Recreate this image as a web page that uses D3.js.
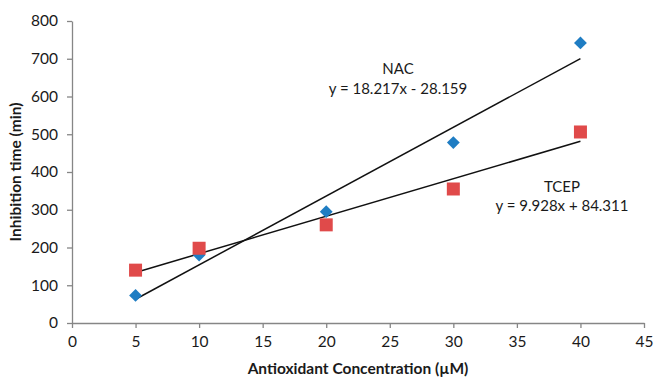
<!DOCTYPE html>
<html>
<head>
    <meta charset="UTF-8">
    <title></title>
    <style>
        body { margin: 0; background: #fff; }
        text { font-family: Lato, "Open Sans", sans-serif; fill: #1a1a1a; }
    </style>
</head>
<body>
<div id="chart"></div>
<script src="https://cdn.jsdelivr.net/npm/d3@7"></script>
<script>
    // data
    var conc = [5, 10, 20, 30, 40];
    var nacValues = [73, 180, 295, 478, 742];
    var tcepValues = [140, 198, 260, 355, 506];
    var xTicks = [0, 5, 10, 15, 20, 25, 30, 35, 40, 45];
    var yTicks = [0, 100, 200, 300, 400, 500, 600, 700, 800];
    // trendline fits as printed on the chart
    var nacFit = [18.217, -28.159];
    var tcepFit = [9.928, 84.311];

    var W = 654, H = 379;
    var m = {left: 72, right: 10, top: 21, bottom: 56};

    var svg = d3.select("#chart").append("svg")
        .attr("width", W).attr("height", H);

    var x = d3.scaleLinear().domain([0, 45]).range([m.left, 644]);
    var y = d3.scaleLinear().domain([0, 800]).range([323, m.top]);

    // axes
    var gx = svg.append("g").attr("transform", "translate(0,323)")
        .call(d3.axisBottom(x).tickValues(xTicks).tickSize(5).tickPadding(8).tickSizeOuter(0));
    var gy = svg.append("g").attr("transform", "translate(" + m.left + ",0)")
        .call(d3.axisLeft(y).tickValues(yTicks).tickSize(5).tickPadding(9).tickSizeOuter(0));
    [gx, gy].forEach(function(g){
        g.select(".domain").attr("stroke", "#868686").attr("stroke-width", 1.3);
        g.selectAll(".tick line").attr("stroke", "#868686").attr("stroke-width", 1.3);
        g.selectAll(".tick text").style("font-family", "Lato, sans-serif")
            .style("font-size", "15.5px").attr("fill", "#1a1a1a");
    });

    // axis titles
    svg.append("text").attr("x", 358).attr("y", 374)
        .attr("text-anchor", "middle").style("font-size", "15.5px").style("font-weight", "bold")
        .text("Antioxidant Concentration (\u00b5M)");
    svg.append("text").attr("transform", "translate(21,172) rotate(-90)")
        .attr("text-anchor", "middle").style("font-size", "15.5px").style("font-weight", "bold")
        .text("Inhibition time (min)");

    // trendlines
    function trend(fit) {
        return [conc[0], conc[conc.length - 1]].map(function(c){ return [c, fit[0] * c + fit[1]]; });
    }
    var line = d3.line().x(function(d){ return x(d[0]); }).y(function(d){ return y(d[1]); });
    [nacFit, tcepFit].forEach(function(f){
        svg.append("path").datum(trend(f)).attr("d", line)
            .attr("fill", "none").attr("stroke", "#111").attr("stroke-width", 1.5);
    });

    // markers
    svg.selectAll(".nac").data(conc).enter().append("path")
        .attr("d", d3.symbol().type(d3.symbolDiamond2).size(105))
        .attr("transform", function(d, i){ return "translate(" + x(d) + "," + y(nacValues[i]) + ")"; })
        .attr("fill", "#1f7dc3");
    svg.selectAll(".tcep").data(conc).enter().append("rect")
        .attr("x", function(d){ return x(d) - 6.5; })
        .attr("y", function(d, i){ return y(tcepValues[i]) - 6.5; })
        .attr("width", 13).attr("height", 13)
        .attr("fill", "#e04a4a");

    // labels
    var labels = [
        {t: "NAC", x: 398, y: 74},
        {t: "y = 18.217x - 28.159", x: 398, y: 94},
        {t: "TCEP", x: 562, y: 192},
        {t: "y = 9.928x + 84.311", x: 562, y: 211}
    ];
    svg.selectAll(".lab").data(labels).enter().append("text")
        .attr("x", function(d){ return d.x; }).attr("y", function(d){ return d.y; })
        .attr("text-anchor", "middle").style("font-size", "15px")
        .text(function(d){ return d.t; });
</script>
</body>
</html>
